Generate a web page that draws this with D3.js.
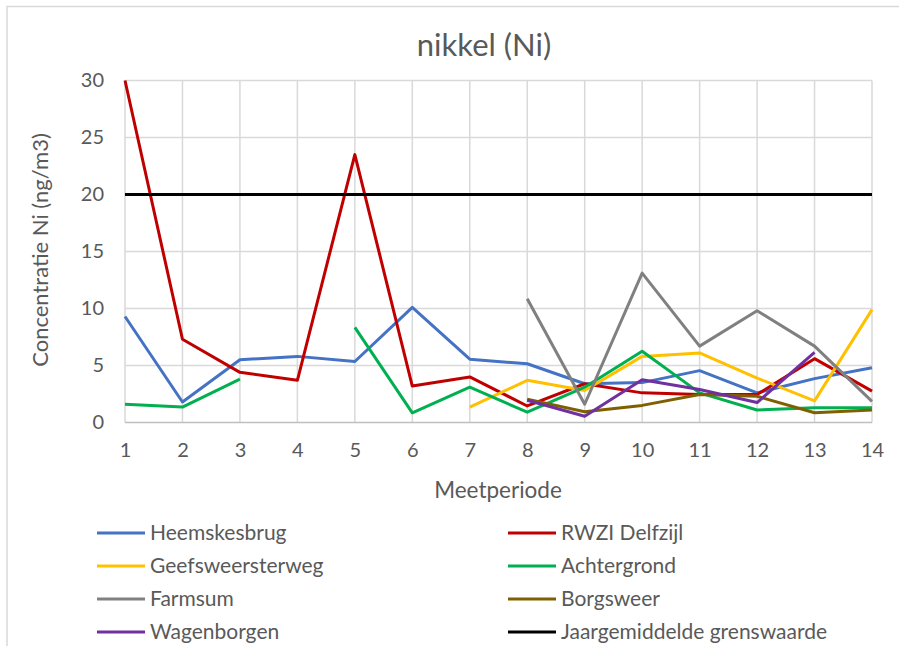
<!DOCTYPE html>
<html>
<head>
<meta charset="utf-8">
<script src="https://cdn.jsdelivr.net/npm/d3@7"></script>
<style>
  html, body { margin: 0; padding: 0; background: #fff; }
  svg { display: block; }
  text { font-family: Lato, "Open Sans", sans-serif; fill: #595959; }
</style>
</head>
<body>
<svg id="chart" width="899" height="646"></svg>
<script>
const periods = [1, 2, 3, 4, 5, 6, 7, 8, 9, 10, 11, 12, 13, 14];
const yTicks = [0, 5, 10, 15, 20, 25, 30];

const heemskesbrug     = [9.3, 1.8, 5.5, 5.8, 5.35, 10.1, 5.55, 5.15, 3.4, 3.5, 4.55, 2.6, 3.85, 4.8];
const rwziDelfzijl     = [30, 7.3, 4.4, 3.7, 23.5, 3.2, 4.0, 1.45, 3.4, 2.6, 2.45, 2.45, 5.6, 2.75];
const geefsweersterweg = [null, null, null, null, null, null, 1.35, 3.7, 2.8, 5.8, 6.1, 3.9, 1.9, 9.9];
const achtergrond      = [1.6, 1.35, 3.8, null, 8.35, 0.85, 3.1, 0.9, 3.1, 6.25, 2.6, 1.1, 1.3, 1.3];
const farmsum          = [null, null, null, null, null, null, null, 10.85, 1.6, 13.1, 6.7, 9.8, 6.7, 1.85];
const borgsweer        = [null, null, null, null, null, null, null, 2.05, 0.95, 1.5, 2.45, 2.3, 0.85, 1.1];
const wagenborgen      = [null, null, null, null, null, null, null, 1.95, 0.55, 3.75, 2.9, 1.75, 6.15, null];
const grenswaarde      = [20, 20, 20, 20, 20, 20, 20, 20, 20, 20, 20, 20, 20, 20];

const seriesNames  = ["Heemskesbrug", "RWZI Delfzijl", "Geefsweersterweg", "Achtergrond",
                      "Farmsum", "Borgsweer", "Wagenborgen", "Jaargemiddelde grenswaarde"];
const seriesValues = [heemskesbrug, rwziDelfzijl, geefsweersterweg, achtergrond,
                      farmsum, borgsweer, wagenborgen, grenswaarde];
const seriesColors = ["#4472C4", "#C00000", "#FFC000", "#00B050",
                      "#808080", "#7F6000", "#7030A0", "#000000"];

const svg = d3.select("#chart");

// outer chart frame
svg.append("rect")
  .attr("x", 7).attr("y", 6.5)
  .attr("width", 1000).attr("height", 1000)
  .attr("fill", "#fff")
  .attr("stroke", "#d9d9d9").attr("stroke-width", 1.5);

const x = d3.scaleLinear().domain([1, 14]).range([125, 872]);
const y = d3.scaleLinear().domain([0, 30]).range([422.5, 80.5]);

// horizontal gridlines
svg.append("g")
  .selectAll("line").data(yTicks.filter(t => t > 0)).join("line")
  .attr("x1", x(1)).attr("x2", x(14))
  .attr("y1", d => y(d)).attr("y2", d => y(d))
  .attr("stroke", "#d9d9d9").attr("stroke-width", 1.5);

// vertical gridlines
svg.append("g")
  .selectAll("line").data(periods).join("line")
  .attr("x1", d => x(d)).attr("x2", d => x(d))
  .attr("y1", y(30)).attr("y2", y(0))
  .attr("stroke", "#d9d9d9").attr("stroke-width", 1.5);

// x axis baseline
svg.append("line")
  .attr("x1", x(1)).attr("x2", x(14))
  .attr("y1", y(0)).attr("y2", y(0))
  .attr("stroke", "#bfbfbf").attr("stroke-width", 1.5);

// y axis labels
const yAxis = d3.axisLeft(y).tickValues(yTicks).tickSize(0).tickPadding(0);
const gy = svg.append("g").attr("transform", `translate(104,0)`).call(yAxis);
gy.select(".domain").remove();
gy.selectAll("text")
  .attr("font-size", 20).attr("fill", "#595959")
  .style("font-family", "Lato, sans-serif");

// x axis labels
const xAxis = d3.axisBottom(x).tickValues(periods).tickFormat(d3.format("d")).tickSize(0).tickPadding(0);
const gx = svg.append("g").attr("transform", `translate(0,${y(0) + 20})`).call(xAxis);
gx.select(".domain").remove();
gx.selectAll("text")
  .attr("font-size", 20).attr("fill", "#595959")
  .style("font-family", "Lato, sans-serif");

// lines
const line = d3.line()
  .defined(d => d.v !== null)
  .x(d => x(d.p))
  .y(d => y(d.v));

seriesValues.forEach((vals, i) => {
  const data = vals.map((v, j) => ({ p: periods[j], v }));
  svg.append("path")
    .datum(data)
    .attr("d", line)
    .attr("fill", "none")
    .attr("stroke", seriesColors[i])
    .attr("stroke-width", 3)
    .attr("stroke-linejoin", "round")
    .attr("stroke-linecap", "butt");
});

// title
svg.append("text")
  .attr("x", 484).attr("y", 56)
  .attr("text-anchor", "middle")
  .attr("font-size", 31)
  .text("nikkel (Ni)");

// axis titles
svg.append("text")
  .attr("transform", "translate(48,250) rotate(-90)")
  .attr("text-anchor", "middle")
  .attr("font-size", 22)
  .text("Concentratie Ni (ng/m3)");

svg.append("text")
  .attr("x", 498).attr("y", 498)
  .attr("text-anchor", "middle")
  .attr("font-size", 22.5)
  .text("Meetperiode");

// legend
const legend = svg.append("g");
seriesNames.forEach((name, i) => {
  const col = i % 2, row = Math.floor(i / 2);
  const lx = col === 0 ? 97 : 508;
  const ly = 533 + row * 33;
  legend.append("line")
    .attr("x1", lx).attr("x2", lx + 48)
    .attr("y1", ly).attr("y2", ly)
    .attr("stroke", seriesColors[i]).attr("stroke-width", 3);
  legend.append("text")
    .attr("x", lx + 53).attr("y", ly + 7)
    .attr("font-size", 21)
    .text(name);
});
</script>
</body>
</html>
